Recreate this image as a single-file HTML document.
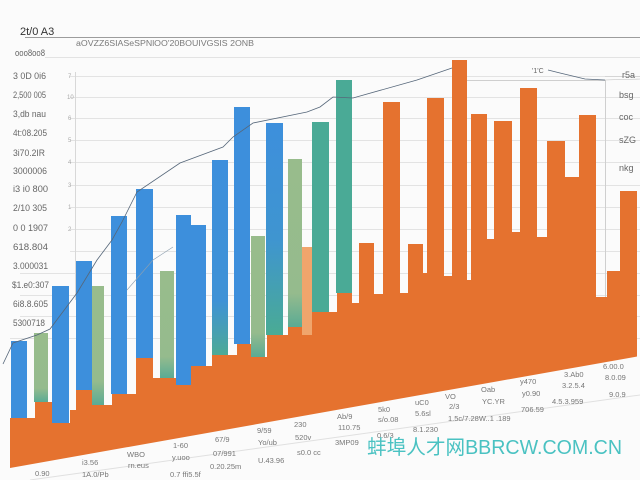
<!DOCTYPE html>
<html><head><meta charset="utf-8"><style>
html,body{margin:0;padding:0;background:#fbfbfb;}
svg{display:block;}
text{font-family:"Liberation Sans","Noto Sans CJK SC",sans-serif;}
</style></head><body>
<svg width="640" height="480" viewBox="0 0 640 480" xmlns="http://www.w3.org/2000/svg">
<defs>
<clipPath id="c"><polygon points="10,0 640,0 640,356 10,468"/></clipPath>
<linearGradient id="bt" x1="0" y1="0" x2="0" y2="1">
 <stop offset="0" stop-color="#3d8fdc"/><stop offset="0.72" stop-color="#3f92d6"/><stop offset="1" stop-color="#4caa96"/>
</linearGradient>
<linearGradient id="bt2" x1="0" y1="0" x2="0" y2="1">
 <stop offset="0" stop-color="#3d8fdc"/><stop offset="0.55" stop-color="#3f95d0"/><stop offset="1" stop-color="#4aab94"/>
</linearGradient>
<linearGradient id="gt" x1="0" y1="0" x2="0" y2="1">
 <stop offset="0" stop-color="#98bc8c"/><stop offset="0.8" stop-color="#95bb8d"/><stop offset="1" stop-color="#5aab94"/>
</linearGradient>
</defs>
<rect width="640" height="480" fill="#fbfbfb"/>

<!-- title & top rule -->
<text x="20" y="35" font-size="11" fill="#333">2t/0 A3</text>
<line x1="25" y1="37.5" x2="640" y2="37.5" stroke="#9c9c9c" stroke-width="1"/>
<text x="76" y="46" font-size="8" fill="#7a7a7a" textLength="178" lengthAdjust="spacingAndGlyphs">aOVZZ6SIASeSPNlOO'20BOUIVGSIS 2ONB</text>

<!-- gridlines -->
<g stroke="#e3e3e3" stroke-width="1">
<line x1="45" y1="57.5" x2="640" y2="57.5"/>
<line x1="70" y1="76.5" x2="605" y2="76.5"/>
<line x1="70" y1="97.5" x2="640" y2="97.5"/>
<line x1="70" y1="118.5" x2="640" y2="118.5"/>
<line x1="70" y1="140.5" x2="640" y2="140.5"/>
<line x1="70" y1="162.5" x2="640" y2="162.5"/>
<line x1="70" y1="185.5" x2="640" y2="185.5"/>
<line x1="70" y1="207.5" x2="640" y2="207.5"/>
<line x1="70" y1="229.5" x2="640" y2="229.5"/>
<line x1="70" y1="251.5" x2="640" y2="251.5"/>
<line x1="20" y1="273.5" x2="640" y2="273.5"/>
<line x1="20" y1="295.5" x2="640" y2="295.5"/>
<line x1="20" y1="316.5" x2="640" y2="316.5"/>
<line x1="10" y1="338.5" x2="640" y2="338.5"/>
</g>
<line x1="75.5" y1="72" x2="75.5" y2="300" stroke="#d8d8d8"/>
<line x1="605.5" y1="80" x2="605.5" y2="300" stroke="#cfcfcf"/>
<line x1="460" y1="80.5" x2="605" y2="80.5" stroke="#cfcfcf"/>
<line x1="605" y1="76.5" x2="640" y2="76.5" stroke="#d5d5d5"/>

<!-- left axis labels -->
<g font-size="9" fill="#666">
<text x="15" y="56" textLength="30" lengthAdjust="spacingAndGlyphs">ooo8oo8</text>
<text x="13" y="79" textLength="33" lengthAdjust="spacingAndGlyphs">3 0D 0i6</text>
<text x="13" y="98" textLength="33" lengthAdjust="spacingAndGlyphs">2,500 005</text>
<text x="13" y="117" textLength="33" lengthAdjust="spacingAndGlyphs">3,db nau</text>
<text x="13" y="136" textLength="34" lengthAdjust="spacingAndGlyphs">4t:08.205</text>
<text x="13" y="156" textLength="32" lengthAdjust="spacingAndGlyphs">3i70.2IR</text>
<text x="13" y="174" textLength="34" lengthAdjust="spacingAndGlyphs">3000006</text>
<text x="13" y="192" textLength="35" lengthAdjust="spacingAndGlyphs">i3 i0 800</text>
<text x="13" y="211" textLength="34" lengthAdjust="spacingAndGlyphs">2/10 305</text>
<text x="13" y="231" textLength="35" lengthAdjust="spacingAndGlyphs">0 0 1907</text>
<text x="13" y="250" textLength="35" lengthAdjust="spacingAndGlyphs">618.804</text>
<text x="13" y="269" textLength="35" lengthAdjust="spacingAndGlyphs">3.000031</text>
<text x="12" y="288" textLength="37" lengthAdjust="spacingAndGlyphs">$1.e0:307</text>
<text x="13" y="307" textLength="35" lengthAdjust="spacingAndGlyphs">6i8.8.605</text>
<text x="13" y="326" textLength="32" lengthAdjust="spacingAndGlyphs">5300718</text>
</g>
<g font-size="6" fill="#aaa">
<text x="68" y="78">7</text><text x="67" y="99">10</text><text x="68" y="120">6</text>
<text x="68" y="142">5</text><text x="68" y="164">4</text><text x="68" y="187">3</text>
<text x="68" y="209">1</text><text x="68" y="231">2</text>
</g>

<!-- right labels -->
<g font-size="9" fill="#666">
<text x="622" y="78">r5a</text>
<text x="619" y="98">bsg</text>
<text x="619" y="120">coc</text>
<text x="619" y="143">sZG</text>
<text x="619" y="171">nkg</text>
</g>

<!-- orange stepped area -->
<path clip-path="url(#c)" fill="#e5722f" d="M10,418 H35 V402 H52 V423 H70 V410 H76 V390 H92 V405 H112 V394 H136 V358 H153 V378 H176 V385 H191 V366 H212 V355 H237 V344 H252 V357 H267 V335 H288 V327 H302 V335 H312 V312 H337 V293 H352 V303 H359 V243 H374 V294 H383 V102 H400 V293 H408 V244 H423 V273 H427 V98 H444 V276 H452 V60 H467 V280 H471 V114 H487 V239 H494 V121 H512 V232 H520 V88 H537 V237 H547 V141 H565 V177 H579 V115 H596 V297 H607 V271 H620 V191 H637 V480 H10 Z"/>

<!-- blue bars -->
<g fill="#3d8fdc">
<rect x="11" y="341" width="16" height="77"/>
<rect x="52" y="286" width="17" height="137"/>
<rect x="76" y="261" width="16" height="129"/>
<rect x="111" y="216" width="16" height="178"/>
<rect x="136" y="189" width="17" height="169"/>
<rect x="176" y="215" width="15" height="170"/>
<rect x="191" y="225" width="15" height="141"/>
<rect x="234" y="107" width="16" height="237"/>
</g>
<rect x="212" y="160" width="16" height="195" fill="url(#bt)"/>
<rect x="266" y="123" width="17" height="212" fill="url(#bt2)"/>
<!-- green bars -->
<g fill="url(#gt)">
<rect x="34" y="333" width="14" height="69"/>
<rect x="92" y="286" width="12" height="119"/>
<rect x="160" y="271" width="14" height="107"/>
<rect x="251" y="236" width="14" height="121"/>
<rect x="288" y="159" width="14" height="168"/>
</g>
<rect x="302" y="247" width="10" height="88" fill="#f0a56c"/>
<!-- teal bars -->
<g fill="#4aaa96">
<rect x="312" y="122" width="17" height="190"/>
<rect x="336" y="80" width="16" height="213"/>
</g>

<!-- trend line -->
<polyline fill="none" stroke="#56677a" stroke-width="0.8" points="3,364 13,343 37,335 50,329 77,293 97,260 112,240 122,222 137,192 180,163 223,147 233,137 253,123 307,112 320,107 333,97 353,98 417,80 452,68"/>
<polyline fill="none" stroke="#8fa0b0" stroke-width="0.6" points="127,290 153,260 173,247"/>
<polyline fill="none" stroke="#56677a" stroke-width="0.8" points="548,70 560,73 585,79 605,80"/>
<line x1="605" y1="80" x2="640" y2="79" stroke="#bbb" stroke-width="0.6"/>
<text x="532" y="73" font-size="7" fill="#666">'1'C</text>

<!-- bottom axis line -->
<line x1="30" y1="480" x2="640" y2="395" stroke="#e0e0e0" stroke-width="1"/>

<!-- bottom labels -->
<g font-size="7.5" fill="#777">
<text x="35" y="476">0.90</text>
<text x="82" y="465">i3.56</text><text x="82" y="477">1A.0/Pb</text>
<text x="127" y="457">WBO</text><text x="128" y="468">rn.eus</text>
<text x="173" y="448">1-60</text><text x="172" y="460">y.uoo</text><text x="170" y="477">0.7 ffi5.5f</text>
<text x="215" y="442">67/9</text><text x="213" y="456">07/991</text><text x="210" y="469">0.20.25m</text>
<text x="257" y="433">9/59</text><text x="258" y="445">Yo/ub</text><text x="258" y="463">U.43.96</text>
<text x="294" y="427">230</text><text x="295" y="440">520v</text><text x="297" y="455">s0.0 cc</text>
<text x="337" y="419">Ab/9</text><text x="338" y="430">110.75</text><text x="335" y="445">3MP09</text>
<text x="378" y="412">5k0</text><text x="378" y="422">s/o.08</text><text x="377" y="438">0.6/3</text>
<text x="415" y="405">uC0</text><text x="415" y="416">5.6sl</text><text x="413" y="432">8.1.230</text>
<text x="445" y="399">VO</text><text x="449" y="409">2/3</text><text x="448" y="421">1.5c/7.28W..1 .189</text>
<text x="481" y="392">Oab</text><text x="482" y="404">YC.YR</text>
<text x="520" y="384">y470</text><text x="522" y="396">y0.90</text><text x="521" y="412">706.59</text>
<text x="564" y="377">3.Ab0</text><text x="562" y="388">3.2.5.4</text><text x="552" y="404">4.5.3.959</text>
<text x="603" y="369">6.00.0</text><text x="605" y="380">8.0.09</text><text x="609" y="397">9.0.9</text>
</g>

<!-- watermark -->
<text x="367" y="454" font-size="20" fill="#4ac2c2" textLength="255" lengthAdjust="spacingAndGlyphs" style='font-family:"Liberation Sans","Noto Sans CJK SC",sans-serif'>蚌埠人才网BBRCW.COM.CN</text>
</svg>
</body></html>
